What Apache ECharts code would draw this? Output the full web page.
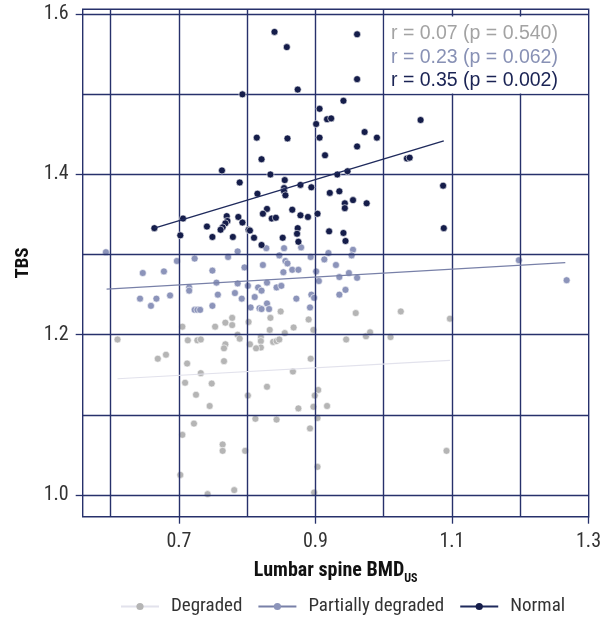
<!DOCTYPE html>
<html>
<head>
<meta charset="utf-8">
<script src="https://cdn.jsdelivr.net/npm/echarts@6/dist/echarts.min.js"></script>
<style>
html,body{margin:0;padding:0;background:#fff;}
#chart{width:605px;height:617px;}
</style>
</head>
<body>
<div id="chart"></div>
<script>
// ---- Data ----
const seriesNames = ['Degraded', 'Partially degraded', 'Normal'];
const xTickLabels = [0.7, 0.9, 1.1, 1.3];
const yTickLabels = [1.0, 1.2, 1.4, 1.6];
const xGridValues = [0.6, 0.7, 0.8, 0.9, 1.0, 1.1, 1.2];
const yGridValues = [1.0, 1.1, 1.2, 1.3, 1.4, 1.5, 1.6];
const corrLabels = ['r = 0.07 (p = 0.540)', 'r = 0.23 (p = 0.062)', 'r = 0.35 (p = 0.002)'];

const normalPoints = [[0.840,1.578],[0.858,1.559],[0.793,1.500],[0.874,1.506],[0.814,1.446],[0.859,1.445],[0.821,1.419],[0.763,1.405],[0.834,1.400],[0.789,1.390],[0.855,1.393],[0.854,1.383],[0.854,1.379],[0.856,1.374],[0.815,1.376],[0.866,1.356],[0.829,1.357],[0.823,1.351],[0.836,1.345],[0.842,1.346],[0.770,1.348],[0.771,1.342],[0.768,1.339],[0.764,1.334],[0.761,1.331],[0.787,1.347],[0.793,1.340],[0.741,1.335],[0.802,1.331],[0.804,1.330],[0.706,1.345],[0.664,1.333],[0.702,1.324],[0.749,1.322],[0.779,1.322],[0.810,1.321],[0.852,1.321],[0.874,1.333],[0.873,1.326],[0.821,1.312],[0.961,1.575],[0.961,1.519],[0.941,1.492],[0.906,1.482],[0.917,1.469],[0.923,1.470],[1.054,1.468],[0.901,1.463],[0.906,1.446],[0.972,1.453],[0.990,1.446],[0.961,1.435],[0.914,1.424],[1.034,1.420],[1.038,1.421],[0.932,1.400],[0.947,1.404],[0.878,1.387],[0.894,1.384],[1.087,1.386],[0.921,1.377],[0.935,1.379],[0.943,1.364],[0.943,1.358],[0.955,1.368],[0.975,1.364],[0.878,1.349],[0.889,1.347],[0.903,1.351],[0.920,1.329],[0.941,1.327],[0.875,1.316],[0.944,1.317],[1.088,1.333]];

const partialPoints = [[0.593,1.303],[0.697,1.292],[0.723,1.295],[0.772,1.297],[0.786,1.304],[0.823,1.287],[0.847,1.299],[0.856,1.292],[0.859,1.289],[0.647,1.277],[0.678,1.279],[0.749,1.280],[0.796,1.284],[0.853,1.278],[0.866,1.281],[0.875,1.281],[0.755,1.265],[0.786,1.264],[0.801,1.261],[0.816,1.259],[0.821,1.255],[0.829,1.265],[0.843,1.259],[0.850,1.261],[0.715,1.259],[0.715,1.255],[0.643,1.245],[0.667,1.245],[0.687,1.249],[0.659,1.236],[0.757,1.250],[0.782,1.252],[0.792,1.245],[0.811,1.247],[0.749,1.236],[0.723,1.231],[0.727,1.231],[0.731,1.231],[0.805,1.234],[0.818,1.233],[0.821,1.232],[0.829,1.239],[0.832,1.232],[0.872,1.245],[0.828,1.308],[0.854,1.308],[0.879,1.309],[0.955,1.306],[0.893,1.297],[0.919,1.302],[0.953,1.299],[0.913,1.294],[0.930,1.287],[0.901,1.279],[0.949,1.277],[0.935,1.272],[0.961,1.271],[0.905,1.267],[0.894,1.250],[0.898,1.246],[0.935,1.250],[0.944,1.256],[0.892,1.234],[1.198,1.293],[1.268,1.268]];

const degradedPoints = [[0.705,1.210],[0.753,1.210],[0.768,1.215],[0.778,1.221],[0.778,1.212],[0.802,1.216],[0.834,1.221],[0.849,1.229],[0.833,1.206],[0.855,1.202],[0.868,1.209],[0.610,1.194],[0.713,1.193],[0.727,1.193],[0.732,1.194],[0.786,1.200],[0.789,1.195],[0.768,1.188],[0.766,1.183],[0.804,1.188],[0.820,1.197],[0.820,1.192],[0.820,1.184],[0.813,1.183],[0.838,1.191],[0.843,1.192],[0.847,1.194],[0.669,1.170],[0.681,1.175],[0.712,1.164],[0.766,1.167],[0.732,1.152],[0.867,1.154],[0.709,1.140],[0.748,1.139],[0.725,1.125],[0.801,1.124],[0.829,1.135],[0.745,1.111],[0.875,1.108],[0.812,1.095],[0.843,1.094],[0.722,1.089],[0.705,1.075],[0.764,1.063],[0.764,1.055],[0.797,1.055],[0.702,1.025],[0.781,1.006],[0.742,1.001],[0.890,1.219],[0.897,1.206],[0.959,1.227],[1.025,1.229],[1.097,1.220],[0.974,1.198],[0.980,1.203],[1.010,1.197],[0.945,1.194],[0.893,1.170],[0.904,1.131],[0.899,1.124],[0.897,1.110],[0.917,1.111],[0.903,1.096],[0.892,1.083],[1.092,1.055],[0.903,1.035],[0.898,1.003]];

const degradedFit = [[0.610,1.145],[1.097,1.168]];
const partialFit = [[0.594,1.257],[1.266,1.290]];
const normalFit = [[0.664,1.333],[1.088,1.442]];

// ---- Styles ----
const NARROW = '"Liberation Sans Narrow", "Roboto Condensed", Roboto, sans-serif';
const REG = '"Liberation Sans", Arial, Helvetica, sans-serif';
const GRID_COLOR = '#27316b';
const dotColors = ['#b5b5b5', '#8c94ba', '#151d4a'];
const lineColors = ['#e2e2ec', '#7880a8', '#1f2a5c'];
const textColors = ['#a3a3a3', '#8891b5', '#1a2354'];
const fits = [degradedFit, partialFit, normalFit];
const pts = [degradedPoints, partialPoints, normalPoints];

const chart = echarts.init(document.getElementById('chart'), null, {renderer: 'canvas'});

const series = [];
// fit lines first (legend icons come from them: line + dot)
for (let i = 0; i < 3; i++) {
  series.push({
    type: 'line', name: seriesNames[i], data: fits[i], z: 10,
    symbol: 'circle', symbolSize: 7, showSymbol: false,
    itemStyle: {color: dotColors[i]},
    lineStyle: {color: lineColors[i], width: i === 2 ? 1.4 : 1.2},
    emphasis: {disabled: true}
  });
}
// grid lines drawn through the axes' scales
series.push({
  type: 'scatter', name: '_grid', data: [], silent: true, z: 1,
  markLine: {
    silent: true, symbol: ['none', 'none'], animation: false,
    label: {show: false},
    lineStyle: {color: GRID_COLOR, width: 1.4, type: 'solid', opacity: 1},
    emphasis: {disabled: true},
    data: xGridValues.map(v => ({xAxis: v})).concat(yGridValues.map(v => ({yAxis: v})))
  }
});
// points
for (let i = 0; i < 3; i++) {
  series.push({
    type: 'scatter', name: seriesNames[i], data: pts[i], z: 3 + i,
    symbol: 'circle', symbolSize: 7,
    itemStyle: {color: dotColors[i], borderColor: '#ffffff', borderWidth: 0.6, opacity: 1},
    emphasis: {disabled: true}
  });
}

const graphics = [{
  type: 'rect', z: 50, silent: true,
  shape: {x: 384.6, y: 16.4, width: 203.4, height: 77.2},
  style: {fill: '#ffffff'}
}].concat(corrLabels.map((t, i) => ({
  type: 'text', x: 391, y: 34 + i * 23.3, z: 100, silent: true,
  style: {text: t, fill: textColors[i], font: '19.5px ' + REG, verticalAlign: 'middle', align: 'left'}
})));

const option = {
  animation: false,
  backgroundColor: '#ffffff',
  grid: {left: 82.7, top: 9.3, right: 16.3, bottom: 100.3, show: true,
         borderColor: GRID_COLOR, borderWidth: 1.4, backgroundColor: 'transparent',
         containLabel: false, outerBoundsMode: 'none'},
  xAxis: {
    type: 'value', min: 0.559, max: 1.3003,
    name: '{a|Lumbar spine BMD}{b|US}', nameLocation: 'middle', nameGap: 40,
    nameTextStyle: {
      rich: {
        a: {fontFamily: NARROW, fontWeight: 'bold', fontSize: 20, color: '#111', lineHeight: 28},
        b: {fontFamily: NARROW, fontWeight: 'bold', fontSize: 12, color: '#111', lineHeight: 12, verticalAlign: 'bottom'}
      }
    },
    axisLine: {show: false, onZero: false},
    axisTick: {show: true, customValues: xTickLabels, length: 7, lineStyle: {color: GRID_COLOR, width: 1.3}},
    axisLabel: {show: true, customValues: xTickLabels, margin: 15, fontFamily: NARROW, fontSize: 20, color: '#333',
                formatter: v => v.toFixed(1)},
    splitLine: {show: false}
  },
  yAxis: {
    type: 'value', min: 0.9728, max: 1.6062,
    name: 'TBS', nameLocation: 'middle', nameGap: 48, nameRotate: 90,
    nameTextStyle: {fontFamily: NARROW, fontWeight: 'bold', fontSize: 19, color: '#111'},
    axisLine: {show: false, onZero: false},
    axisTick: {show: true, customValues: yTickLabels, length: 7, lineStyle: {color: GRID_COLOR, width: 1.3}},
    axisLabel: {show: true, customValues: yTickLabels, margin: 14, fontFamily: NARROW, fontSize: 20, color: '#333',
                formatter: v => v.toFixed(1)},
    splitLine: {show: false}
  },
  legend: {
    data: seriesNames, left: 120, top: 597, orient: 'horizontal', padding: 0,
    itemWidth: 38, itemHeight: 9, itemGap: 15, selectedMode: false,
    textStyle: {fontFamily: NARROW, fontSize: 19, color: '#333', padding: [0, 0, 0, 7]}
  },
  graphic: graphics,
  series: series
};
chart.setOption(option);
</script>
</body>
</html>
